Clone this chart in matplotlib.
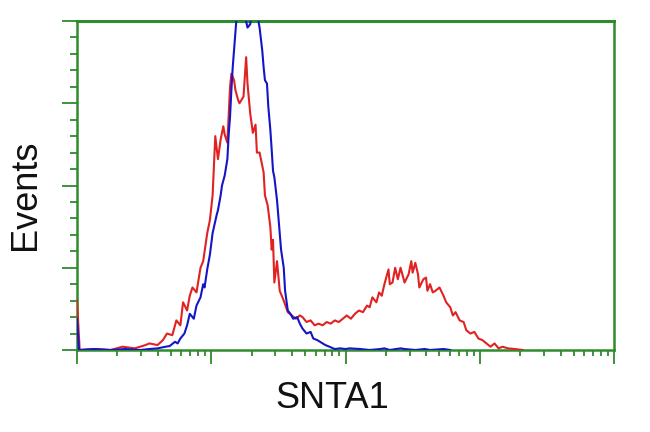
import numpy as np
import matplotlib
matplotlib.use("Agg")
import matplotlib.pyplot as plt
from matplotlib.ticker import LogLocator, MultipleLocator, NullFormatter

# fluorescence position in decades (log10 of intensity) and event counts
red_log = [0.00, 0.02, 0.13, 0.25, 0.34, 0.43, 0.51, 0.54, 0.60, 0.64,
           0.67, 0.71, 0.74, 0.77, 0.79, 0.82, 0.84, 0.86, 0.89, 0.92,
           0.94, 0.97, 0.99, 1.01, 1.03, 1.05, 1.07, 1.09, 1.10, 1.12,
           1.14, 1.15, 1.17, 1.18, 1.20, 1.21, 1.24, 1.26, 1.27, 1.29,
           1.31, 1.33, 1.34, 1.36, 1.39, 1.40, 1.42, 1.44, 1.45, 1.46,
           1.47, 1.49, 1.51, 1.54, 1.57, 1.60, 1.63, 1.66, 1.68, 1.71,
           1.74, 1.77, 1.80, 1.83, 1.86, 1.89, 1.92, 1.95, 1.98, 2.01,
           2.04, 2.07, 2.10, 2.13, 2.16, 2.18, 2.20, 2.23, 2.25, 2.27,
           2.29, 2.32, 2.33, 2.35, 2.37, 2.39, 2.41, 2.43, 2.44, 2.47,
           2.49, 2.50, 2.52, 2.54, 2.55, 2.58, 2.60, 2.61, 2.63, 2.65,
           2.67, 2.70, 2.73, 2.75, 2.78, 2.80, 2.82, 2.85, 2.88, 2.90,
           2.93, 2.96, 2.99, 3.02, 3.05, 3.08, 3.11, 3.14, 3.17, 3.21,
           3.26, 3.32]
red_counts = [30, 0, 0.6, 0, 2, 1, 3, 4, 3, 6,
              10, 9, 18, 15, 29, 24, 33, 38, 35, 50,
              54, 71, 79, 94, 130, 116, 128, 136, 131, 126,
              160, 168, 164, 158, 152, 150, 154, 178, 162, 144,
              132, 137, 120, 120, 108, 94, 88, 75, 61, 67,
              41, 54, 36, 30, 23, 21, 19, 21, 20, 17,
              18, 15, 16, 15, 17, 16, 18, 17, 19, 21,
              19, 22, 24, 23, 27, 26, 32, 29, 35, 33,
              40, 49, 40, 41, 50, 43, 50, 44, 41, 46,
              54, 47, 53, 46, 38, 43, 44, 36, 40, 35,
              36, 38, 33, 29, 26, 21, 23, 18, 17, 12,
              10, 11, 7, 6, 4, 2, 4, 1, 2, 1,
              0.6, 0]

blue_log = [0.00, 0.015, 0.13, 0.25, 0.36, 0.47, 0.54, 0.60, 0.66, 0.69,
            0.73, 0.75, 0.77, 0.80, 0.82, 0.84, 0.87, 0.89, 0.92, 0.94,
            0.95, 0.97, 0.99, 1.01, 1.04, 1.05, 1.07, 1.08, 1.10, 1.12,
            1.13, 1.14, 1.15, 1.16, 1.18, 1.19, 1.21, 1.24, 1.27, 1.29,
            1.31, 1.34, 1.36, 1.38, 1.39, 1.40, 1.415, 1.425, 1.44, 1.45,
            1.46, 1.47, 1.49, 1.51, 1.52, 1.54, 1.55, 1.57, 1.59, 1.61,
            1.64, 1.66, 1.68, 1.71, 1.74, 1.76, 1.79, 1.81, 1.85, 1.88,
            1.92, 1.96, 2.00, 2.03, 2.11, 2.18, 2.26, 2.29, 2.33, 2.41,
            2.44, 2.52, 2.59, 2.63, 2.73, 2.78]
blue_counts = [19, 0, 0.6, 0, 0.6, 0, 0.6, 1, 2, 2.4,
               5, 4, 7, 10, 15, 22, 19, 27, 32, 40,
               38, 49, 58, 71, 82, 85, 94, 100, 106, 116,
               131, 142, 158, 172, 193, 204, 210, 207, 196, 198,
               208, 205, 196, 182, 172, 164, 162, 148, 134, 122,
               109, 105, 91, 71, 61, 50, 36, 24, 22, 19,
               20, 16, 13, 10, 11, 7, 6, 5, 3, 2,
               0.6, 1, 0.6, 1, 0.6, 0, 0.6, 1, 0, 1,
               0.6, 0, 0.6, 0, 0.6, 0]

x_label = "SNTA1"
y_label = "Events"

green = "#2e8b2e"

fig = plt.figure(figsize=(6.5, 4.32), dpi=100)
ax = fig.add_axes([77 / 650, 1 - 350 / 432, 537 / 650, 329 / 432])

ax.plot(10 ** np.array(red_log), red_counts, color="#e02222", lw=1.5,
        zorder=3)
ax.plot(10 ** np.array(blue_log), blue_counts, color="#1515c8", lw=1.5,
        zorder=3)

ax.set_xscale("log")
ax.set_xlim(1, 1e4)
ax.set_ylim(0, 200)

ax.xaxis.set_major_locator(LogLocator(base=10, numticks=10))
ax.xaxis.set_minor_locator(LogLocator(base=10, subs=np.arange(2, 10), numticks=20))
ax.xaxis.set_major_formatter(NullFormatter())
ax.xaxis.set_minor_formatter(NullFormatter())
ax.yaxis.set_major_locator(MultipleLocator(50))
ax.yaxis.set_minor_locator(MultipleLocator(10))
ax.yaxis.set_major_formatter(NullFormatter())

for side in ["left", "right", "top", "bottom"]:
    ax.spines[side].set_color(green)
    ax.spines[side].set_linewidth(1.8)
ax.spines["top"].set_linewidth(2.2)

ax.tick_params(which="major", axis="x", length=10, width=1.3, color=green,
               direction="out")
ax.tick_params(which="minor", axis="x", length=4.5, width=1.3, color=green,
               direction="out")
ax.tick_params(which="major", axis="y", length=11, width=1.3, color=green,
               direction="out")
ax.tick_params(which="minor", axis="y", length=5, width=1.3, color=green,
               direction="out")

fig.text(332 / 650, 1 - 408 / 432, x_label, ha="center", va="baseline",
         fontsize=26, family="Liberation Sans", color="#111111")
fig.text(26 / 650, 1 - 195 / 432, y_label, ha="center", va="center",
         rotation=90, fontsize=26, family="Liberation Sans", color="#111111")

fig.savefig("out.png", dpi=100)
